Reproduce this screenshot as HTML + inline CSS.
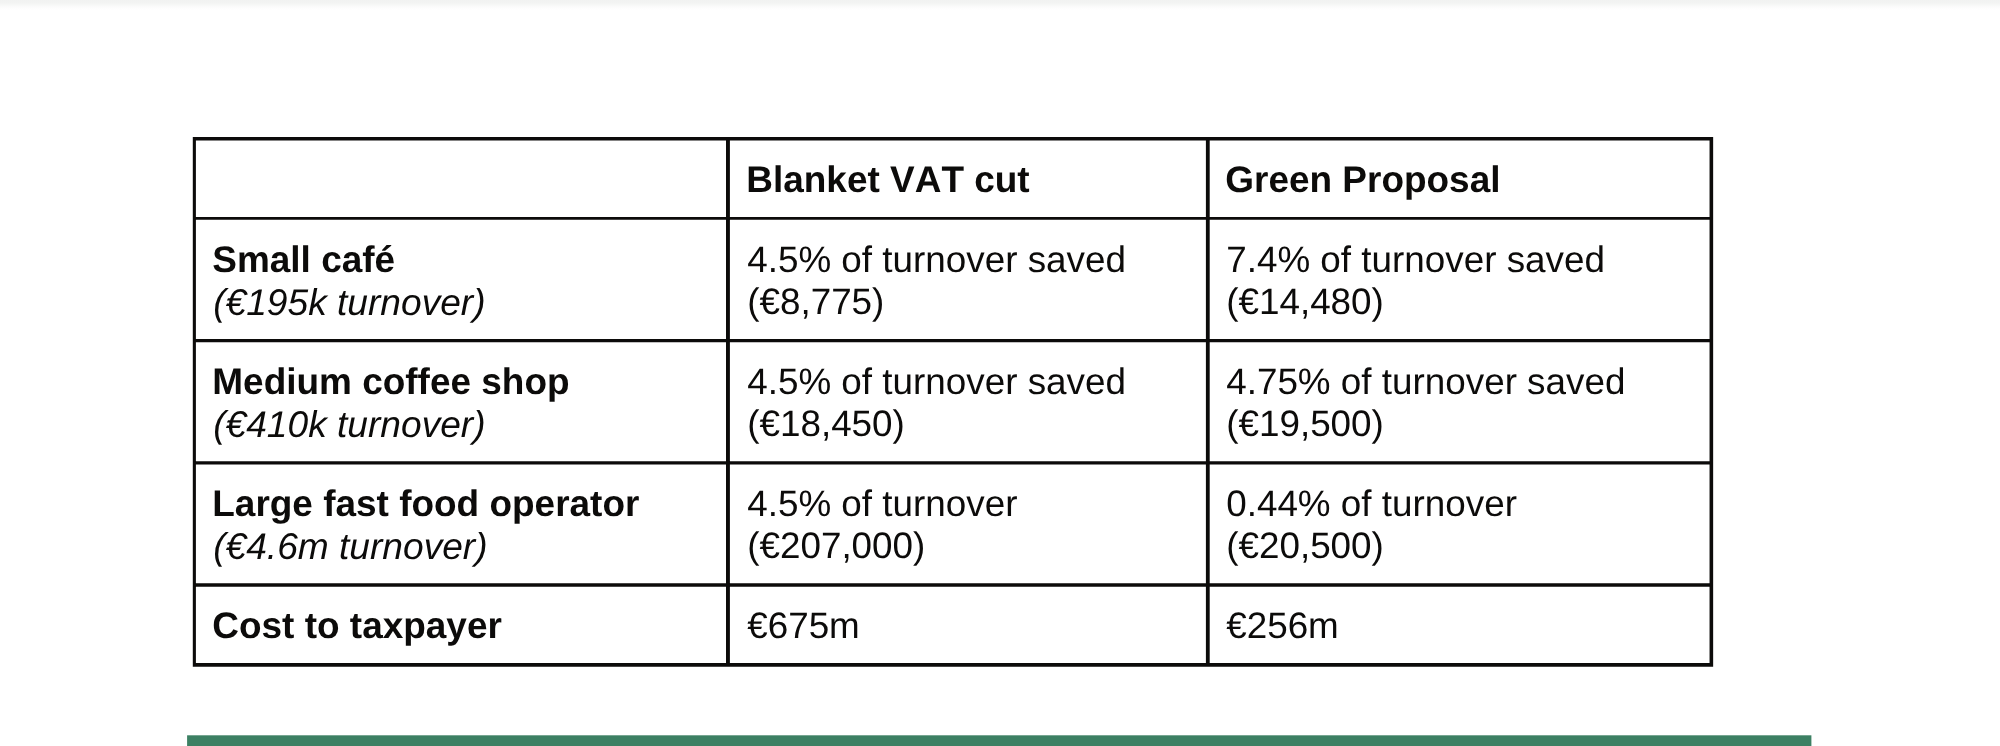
<!DOCTYPE html>
<html><head><meta charset="utf-8"><title>VAT comparison</title>
<style>
html,body{margin:0;padding:0;background:#fff;}
body{width:2000px;height:746px;position:relative;overflow:hidden;font-family:"Liberation Sans",sans-serif;color:#0c0b0a;}
.topfade{position:absolute;left:0;top:0;width:2000px;height:10px;background:linear-gradient(to bottom,#f1f2f1 0,#f3f4f3 30%,#f7f8f7 50%,#fcfcfc 72%,#ffffff 100%);}
.ln{position:absolute;background:#0c0b0a;}
.t{position:absolute;font-kerning:none;font-feature-settings:"kern" 0,"liga" 0;text-rendering:geometricPrecision;white-space:nowrap;font-size:36.85px;line-height:36.85px;height:36.85px;}
.b{font-weight:bold;}
.i{font-style:italic;}
#wrap{position:absolute;left:0;top:0;width:2000px;height:746px;filter:blur(0.55px);}
</style></head><body>
<div class="topfade"></div>
<div id="wrap">

<svg class="grid" width="2000" height="746" viewBox="0 0 2000 746" style="position:absolute;left:0;top:0">
<path fill="#0c0b0a" fill-rule="nonzero" d="M192.80 137.00h1520.35v3.60h-1520.35zM192.80 217.00h1520.35v2.80h-1520.35zM192.80 339.05h1520.35v3.10h-1520.35zM192.80 461.15h1520.35v3.40h-1520.35zM192.80 583.30h1520.35v3.40h-1520.35zM192.80 662.90h1520.35v3.90h-1520.35zM192.80 137.00h3.10v529.80h-3.10zM726.00 137.00h3.90v529.80h-3.90zM1205.90 137.00h3.80v529.80h-3.80zM1709.55 137.00h3.60v529.80h-3.60z"/>
</svg>
<div class="t b" style="left:746.30px;top:162.31px;font-size:36.96px">Blanket VAT cut</div>
<div class="t b" style="left:1225.30px;top:162.31px;font-size:36.96px">Green Proposal</div>
<div class="t b" style="left:212.30px;top:242.31px;font-size:36.96px">Small café</div>
<div class="t" style="left:747.20px;top:242.31px;font-size:36.85px">4.5% of turnover saved</div>
<div class="t" style="left:1226.20px;top:242.31px;font-size:36.85px">7.4% of turnover saved</div>
<div class="t i" style="left:213.20px;top:283.81px;font-size:37.13px">(€195k turnover)</div>
<div class="t" style="left:747.20px;top:283.81px;font-size:36.85px">(€8,775)</div>
<div class="t" style="left:1226.20px;top:283.81px;font-size:36.85px">(€14,480)</div>
<div class="t b" style="left:212.30px;top:364.31px;font-size:36.96px">Medium coffee shop</div>
<div class="t" style="left:747.20px;top:364.31px;font-size:36.85px">4.5% of turnover saved</div>
<div class="t" style="left:1226.20px;top:364.31px;font-size:36.85px">4.75% of turnover saved</div>
<div class="t i" style="left:213.20px;top:406.31px;font-size:37.13px">(€410k turnover)</div>
<div class="t" style="left:747.20px;top:406.31px;font-size:36.85px">(€18,450)</div>
<div class="t" style="left:1226.20px;top:406.31px;font-size:36.85px">(€19,500)</div>
<div class="t b" style="left:212.30px;top:486.31px;font-size:36.96px">Large fast food operator</div>
<div class="t" style="left:747.20px;top:486.31px;font-size:36.85px">4.5% of turnover</div>
<div class="t" style="left:1226.20px;top:486.31px;font-size:36.85px">0.44% of turnover</div>
<div class="t i" style="left:213.20px;top:528.31px;font-size:37.13px">(€4.6m turnover)</div>
<div class="t" style="left:747.20px;top:528.31px;font-size:36.85px">(€207,000)</div>
<div class="t" style="left:1226.20px;top:528.31px;font-size:36.85px">(€20,500)</div>
<div class="t b" style="left:212.30px;top:608.31px;font-size:36.96px">Cost to taxpayer</div>
<div class="t" style="left:747.20px;top:608.31px;font-size:36.85px">€675m</div>
<div class="t" style="left:1226.20px;top:608.31px;font-size:36.85px">€256m</div>
</div>
<svg width="2000" height="746" viewBox="0 0 2000 746" style="position:absolute;left:0;top:0;filter:blur(0.5px)"><rect x="187.1" y="735.3" width="1624.3" height="14" fill="#3c8063"/></svg>
</body></html>
